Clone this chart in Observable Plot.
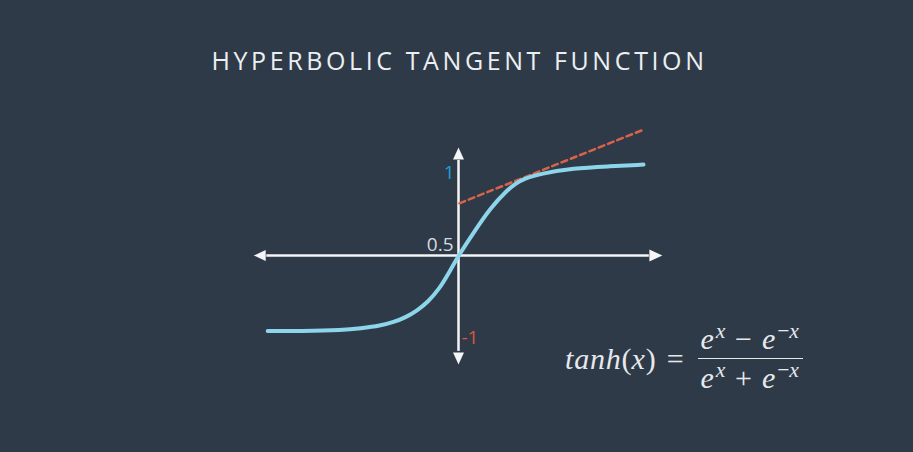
<!DOCTYPE html>
<html>
<head>
<meta charset="utf-8">
<script src="https://cdn.jsdelivr.net/npm/d3@7"></script>
<script src="https://cdn.jsdelivr.net/npm/@observablehq/plot@0.6"></script>
<style>
  body { margin: 0; background: #2e3a48; }
  #wrap { position: relative; width: 913px; height: 452px; overflow: hidden; background: #2e3a48; font-family: "Open Sans", sans-serif; }
  #title { box-sizing: border-box; height: 100px; padding-top: 45px; line-height: 30px; font-size: 25px; letter-spacing: 3.6px; color: #eceff2; text-align: center; padding-left: 6px; }
  #chart svg { display: block; }
  #formula { position: absolute; left: 565px; top: 323px; display: flex; align-items: center; color: #e6e9ec; font-family: "Liberation Serif", "DejaVu Serif", serif; font-size: 30px; white-space: nowrap; }
  #formula i { font-style: italic; letter-spacing: 0.8px; }
  #formula .eq { margin: 0 14px 0 11px; }
  #formula .frac { display: inline-flex; flex-direction: column; align-items: center; }
  #formula .num { padding: 0 3px 3px 3px; line-height: 32px; }
  #formula .den { padding: 3px 3px 0 3px; line-height: 32px; border-top: 1.5px solid #e6e9ec; }
  #formula sup { font-size: 0.72em; vertical-align: 0.5em; line-height: 0; margin-left: 1px; }
  #formula .op { margin: 0 10px 0 9px; }
</style>
</head>
<body>
<div id="wrap">
  <div id="title">HYPERBOLIC TANGENT FUNCTION</div>
  <div id="chart"></div>
  <div id="formula">
    <span><i>tanh</i>(<i>x</i>)</span><span class="eq">=</span>
    <span class="frac">
      <span class="num"><i>e</i><sup><i>x</i></sup><span class="op">−</span><i>e</i><sup>−<i>x</i></sup></span>
      <span class="den"><i>e</i><sup><i>x</i></sup><span class="op">+</span><i>e</i><sup>−<i>x</i></sup></span>
    </span>
  </div>
</div>
<script>
// Curve (x in axis units, y in tanh units)
const curveX = [-4.24, -3.51, -2.56, -2.18, -1.73, -1.44, -1.18, -0.91, -0.67, -0.44, -0.22, 0, 0.33, 0.71, 1.09, 1.27, 1.44, 1.82, 2.56, 3.31, 4.11];
const curveY = [-0.84, -0.84, -0.83, -0.81, -0.78, -0.74, -0.69, -0.61, -0.51, -0.38, -0.2, 0, 0.25, 0.53, 0.73, 0.8, 0.85, 0.91, 0.97, 0.99, 1.01];
// Dashed tangent line
const tangentX = [0.02, 4.07];
const tangentY = [0.58, 1.39];
// Axis extents (arrow tips)
const xAxisExtent = [-4.55, 4.53];
const yAxisExtent = [-1.21, 1.2];
// Tick labels
const tickLabels = ["1", "0.5", "-1"];
const tickValues = [1, 0, -1];

const curve = curveX.map((x, i) => ({x, y: curveY[i]}));
const tangent = tangentX.map((x, i) => ({x, y: tangentY[i]}));

const pxX = 45, pxY = 90;          // pixels per unit
const headLen = 13;                 // arrow head length in px

function head(dir) {
  return {
    draw(ctx, size) {
      const r = Math.sqrt(size / Math.PI);
      const L = r * 13 / 6;
      const pts = {
        right: [[0, 0], [-L, -r], [-L, r]],
        left:  [[0, 0], [L, -r], [L, r]],
        up:    [[0, 0], [-r, L], [r, L]],
        down:  [[0, 0], [-r, -L], [r, -L]]
      }[dir];
      ctx.moveTo(pts[0][0], pts[0][1]);
      ctx.lineTo(pts[1][0], pts[1][1]);
      ctx.lineTo(pts[2][0], pts[2][1]);
      ctx.closePath();
    }
  };
}

const axisColor = "#f4f5f6";
const labelColors = ["#1e9fd6", "#d7dbe0", "#d9563a"];
const labelDx = [-4, -5, 3];
const labelDy = [7, -11, -8];
const labelAnchor = ["end", "end", "start"];

const labels = tickLabels.map((t, i) => ({t, y: tickValues[i], c: labelColors[i], dx: labelDx[i], dy: labelDy[i], a: labelAnchor[i]}));

const plot = Plot.plot({
  width: 913,
  height: 352,
  marginLeft: 251,
  marginRight: 248,
  marginTop: 38,
  marginBottom: 80,
  style: {background: "transparent", overflow: "visible"},
  x: {domain: [-4.6, 4.6], axis: null},
  y: {domain: [-1.3, 1.3], axis: null},
  marks: [
    Plot.ruleY([0], {x1: xAxisExtent[0] + headLen / pxX, x2: xAxisExtent[1] - headLen / pxX, stroke: axisColor, strokeWidth: 2.5}),
    Plot.ruleX([0], {y1: yAxisExtent[0] + headLen / pxY, y2: yAxisExtent[1] - headLen / pxY, stroke: axisColor, strokeWidth: 2.5}),
    Plot.dot([{x: xAxisExtent[1], y: 0}], {x: "x", y: "y", symbol: head("right"), r: 6, fill: axisColor, stroke: "none"}),
    Plot.dot([{x: xAxisExtent[0], y: 0}], {x: "x", y: "y", symbol: head("left"), r: 5.5, fill: axisColor, stroke: "none"}),
    Plot.dot([{x: 0, y: yAxisExtent[1]}], {x: "x", y: "y", symbol: head("up"), r: 5.5, fill: axisColor, stroke: "none"}),
    Plot.dot([{x: 0, y: yAxisExtent[0]}], {x: "x", y: "y", symbol: head("down"), r: 5.5, fill: axisColor, stroke: "none"}),
    Plot.line(tangent, {x: "x", y: "y", stroke: "#d9634a", strokeWidth: 2.5, strokeDasharray: "6,4"}),
    Plot.line(curve, {x: "x", y: "y", stroke: "#8dd5eb", strokeWidth: 4, curve: "basis"}),
    ...labels.map(d => Plot.text([d], {x: () => 0, y: "y", text: "t", fill: d.c, dx: d.dx, dy: d.dy, textAnchor: d.a, fontSize: 19, fontFamily: "Open Sans"}))
  ]
});
document.getElementById("chart").appendChild(plot);
</script>
</body>
</html>
